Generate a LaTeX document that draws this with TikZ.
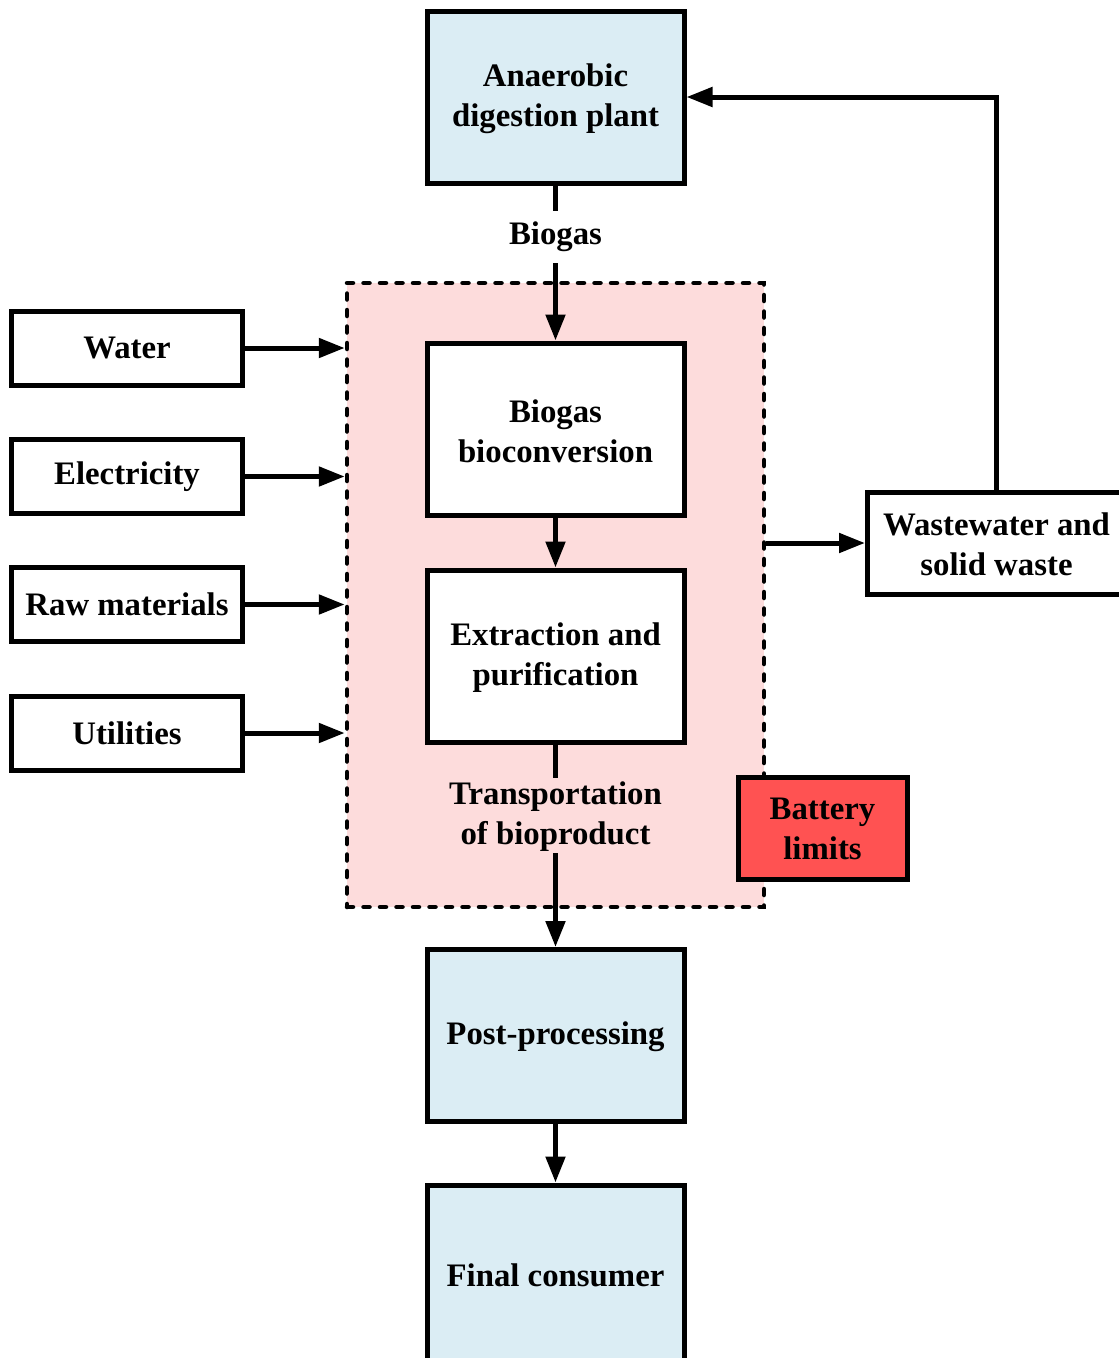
\documentclass[tikz,border=0pt]{standalone}
\usepackage{fontspec}
\setmainfont{Liberation Serif}[BoldFont={Liberation Serif Bold}]
\usetikzlibrary{arrows.meta,shadows}

\definecolor{paleblue}{HTML}{DBEDF4}
\definecolor{palepink}{HTML}{FDDCDC}
\definecolor{limitred}{HTML}{FF5252}

\tikzset{
  every node/.style={font=\fontsize{32.8}{40}\selectfont\bfseries, align=center},
  procbox/.style={draw, line width=5pt, minimum width=257pt, minimum height=172pt, inner sep=0pt},
  inbox/.style={draw, line width=5pt, minimum width=231pt, minimum height=74pt, inner sep=0pt},
  flowlabel/.style={inner sep=0pt},
  link/.style={line width=5pt},
  arrowlink/.style={line width=5pt, -{Triangle[length=26pt,width=19pt]}},
}

\begin{document}
\begin{tikzpicture}[x=1pt,y=-1pt]
\useasboundingbox (0,0) rectangle (1119,1358);

% battery-limits region
\node[draw, fill=palepink, line width=4.5pt, line cap=round,
      dash pattern=on 6pt off 10.5pt,
      minimum width=417pt, minimum height=624pt, inner sep=0pt]
      (region) at (555.5,595) {};

% main process chain
\node[procbox, fill=paleblue] (adp) at (555.5,97) {};
\node (adplbl) at (555.5,99) {Anaerobic\\digestion plant};
\node[flowlabel, minimum height=52pt] (biogas) at (555.5,237) {Biogas};
\node[procbox, fill=white] (bioconv) at (555.5,429) {};
\node (bioconvlbl) at (555.5,431) {Biogas\\bioconversion};
\node[procbox, fill=white] (extract) at (555.5,656) {};
\node (extractlbl) at (555.5,658) {Extraction and\\purification};
\node[flowlabel, minimum height=75pt] (transport) at (555.5,815.5) {};
\node (transportlbl) at (555.5,817) {Transportation\\of bioproduct};
\node[procbox, fill=paleblue] (post) at (555.5,1035.5) {};
\node (postlbl) at (555.5,1037) {Post-processing};
\node[procbox, fill=paleblue, minimum height=176pt] (consumer) at (555.5,1273) {};
\node (consumerlbl) at (555.5,1275) {Final consumer};

% inputs
\node[inbox] (water) at (127,348) {Water};
\node[inbox] (elec) at (127,476.5) {Electricity};
\node[inbox] (raw) at (127,604.5) {Raw materials};
\node[inbox] (util) at (127,733) {Utilities};

% output waste
\node[draw, line width=5pt, minimum width=258pt, minimum height=102pt, inner sep=0pt]
      (waste) at (996.5,543) {};
\node (wastelbl) at (996.5,544) {Wastewater and\\solid waste};

% legend
\node[draw, fill=limitred, line width=5pt, minimum width=169pt, minimum height=102pt,
      inner sep=0pt, drop shadow={shadow xshift=2pt, shadow yshift=-2pt, opacity=0.2}]
      (battery) at (822.5,828) {};
\node (batterylbl) at (822.5,829) {Battery\\limits};

% connectors
\draw[link] (adp) -- (biogas);
\draw[arrowlink] (biogas) -- (bioconv);
\draw[arrowlink] (bioconv) -- (extract);
\draw[link] (extract) -- (transport);
\draw[arrowlink] (transport) -- (post);
\draw[arrowlink] (post) -- (consumer);

\foreach \src in {water,elec,raw,util}
  \draw[arrowlink] (\src.east) -- (\src.east -| region.west);

\draw[arrowlink] (region.east |- waste.west) -- (waste.west);
\draw[arrowlink] (waste.north) |- (adp.east);
\end{tikzpicture}
\end{document}
